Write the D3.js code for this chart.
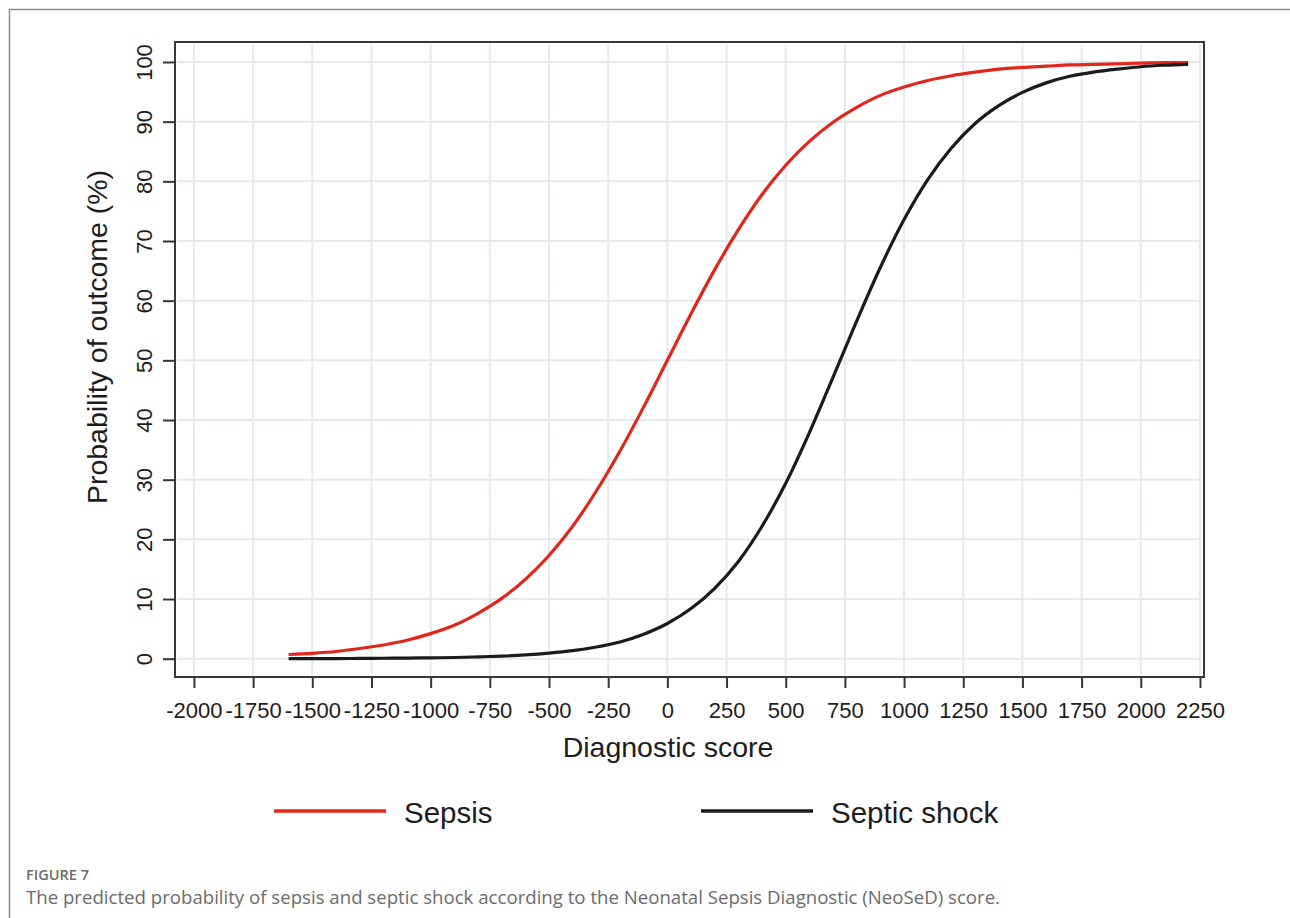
<!DOCTYPE html>
<html>
<head>
<meta charset="utf-8">
<script src="https://cdn.jsdelivr.net/npm/d3@7"></script>
<style>
  body { margin: 0; background: #ffffff; }
  text { font-family: "Liberation Sans", Arial, sans-serif; }
  .caption { font-family: "Open Sans", "Noto Sans", sans-serif; }
</style>
</head>
<body>
<div id="prediction-plot"></div>
<script>
// Diagnostic score (x) for the curve points
let scores = [-1600, -1500, -1400, -1300, -1200, -1100, -1000, -900, -800, -700,
  -600, -500, -400, -300, -200, -100, 0, 100, 200, 300, 400, 500, 600, 700, 800,
  900, 1000, 1100, 1200, 1300, 1400, 1500, 1600, 1700, 1800, 1900, 2000, 2100, 2200];

// Probability of sepsis (%)
let sepsis = [0.7, 0.9, 1.2, 1.7, 2.3, 3.1, 4.2, 5.6, 7.6, 10.1,
  13.3, 17.3, 22.2, 28.1, 34.8, 42.2, 50.0, 57.8, 65.2, 71.9, 77.8, 82.7, 86.7, 89.9, 92.4,
  94.4, 95.8, 96.9, 97.7, 98.3, 98.8, 99.1, 99.3, 99.5, 99.6, 99.7, 99.8, 99.9, 99.9];

// Probability of septic shock (%)
let septicShock = [0.0, 0.0, 0.0, 0.05, 0.07, 0.1, 0.14, 0.2, 0.3, 0.43,
  0.63, 0.93, 1.35, 1.96, 2.8, 4.1, 5.9, 8.4, 11.8, 16.3, 22.2, 29.4, 37.9, 47.2, 56.6,
  65.6, 73.6, 80.3, 85.6, 89.7, 92.7, 94.9, 96.5, 97.6, 98.3, 98.8, 99.2, 99.45, 99.6];

let xTicks = [-2000, -1750, -1500, -1250, -1000, -750, -500, -250, 0, 250, 500,
  750, 1000, 1250, 1500, 1750, 2000, 2250];
let yTicks = [0, 10, 20, 30, 40, 50, 60, 70, 80, 90, 100];

let seriesNames = ["Sepsis", "Septic shock"];
let seriesColors = ["#e3261b", "#1c1a1a"];

let width = 1290;
let height = 918;
let plot = { left: 175, right: 1204, top: 42, bottom: 677 };

// Set scale
let xScale = d3.scaleLinear().domain([-2080, 2267]).range([plot.left, plot.right]);
let yScale = d3.scaleLinear().domain([-3.07, 103.35]).range([plot.bottom, plot.top]);

// create svg
let svg = d3
  .select("#prediction-plot")
  .append("svg")
  .attr("width", width)
  .attr("height", height);

svg.append("rect").attr("width", width).attr("height", height).attr("fill", "#fff");

// outer figure frame (top and left)
svg
  .append("path")
  .attr("d", `M9.5,${height} V9.5 H${width}`)
  .attr("fill", "none")
  .attr("stroke", "#8c8c8c")
  .attr("stroke-width", 1.5);

// Grid
let grid = svg.append("g").attr("class", "grid");
grid
  .selectAll(".vgrid")
  .data(xTicks)
  .enter()
  .append("line")
  .attr("x1", d => xScale(d))
  .attr("x2", d => xScale(d))
  .attr("y1", plot.top + 3)
  .attr("y2", plot.bottom - 2)
  .attr("stroke", "#e6eaef")
  .attr("stroke-width", 2);
grid
  .selectAll(".hgrid")
  .data(yTicks)
  .enter()
  .append("line")
  .attr("x1", plot.left + 2)
  .attr("x2", plot.right - 3)
  .attr("y1", d => yScale(d))
  .attr("y2", d => yScale(d))
  .attr("stroke", "#e6eaef")
  .attr("stroke-width", 2);

// Set axis
let xAxis = d3
  .axisBottom(xScale)
  .tickValues(xTicks)
  .tickFormat(d => String(d))
  .tickSize(11)
  .tickSizeOuter(0);
let yAxis = d3
  .axisLeft(yScale)
  .tickValues(yTicks)
  .tickFormat(d => String(d))
  .tickSize(12)
  .tickSizeOuter(0);

// Create X axis
let gx = svg
  .append("g")
  .attr("transform", `translate(0, ${plot.bottom})`)
  .call(xAxis);
gx.select(".domain").remove();
gx.selectAll(".tick line").attr("stroke", "#3a3636").attr("stroke-width", 2);
gx.selectAll(".tick text")
  .attr("fill", "#1e1c1c")
  .attr("dy", null)
  .attr("y", 41)
  .style("font-size", "22px");

// Create Y axis
let gy = svg
  .append("g")
  .attr("transform", `translate(${plot.left}, 0)`)
  .call(yAxis);
gy.select(".domain").remove();
gy.selectAll(".tick line").attr("stroke", "#3a3636").attr("stroke-width", 2);
gy.selectAll(".tick text")
  .attr("fill", "#1e1c1c")
  .attr("x", null)
  .attr("dy", null)
  .attr("transform", "translate(-23, 0) rotate(-90)")
  .style("text-anchor", "middle")
  .style("font-size", "22px");

// Plot frame
svg
  .append("rect")
  .attr("x", plot.left)
  .attr("y", plot.top)
  .attr("width", plot.right - plot.left)
  .attr("height", plot.bottom - plot.top)
  .attr("fill", "none")
  .attr("stroke", "#3a3636")
  .attr("stroke-width", 2);

// Curves
let line = d3
  .line()
  .x((d, i) => xScale(scores[i]))
  .y(d => yScale(d))
  .curve(d3.curveMonotoneX);

[sepsis, septicShock].forEach((values, k) => {
  svg
    .append("path")
    .datum(values)
    .attr("d", line)
    .attr("fill", "none")
    .attr("stroke", seriesColors[k])
    .attr("stroke-width", 3.2);
});

// Axis titles
svg
  .append("text")
  .attr("x", 668)
  .attr("y", 757)
  .style("text-anchor", "middle")
  .style("font-size", "28.5px")
  .attr("fill", "#1e1c1c")
  .text("Diagnostic score");

svg
  .append("text")
  .attr("transform", "translate(107, 337) rotate(-90)")
  .style("text-anchor", "middle")
  .style("font-size", "28.5px")
  .attr("fill", "#1e1c1c")
  .text("Probability of outcome (%)");

// Add legend
let legendX = [274, 701];
seriesNames.forEach((name, i) => {
  svg
    .append("line")
    .attr("x1", legendX[i])
    .attr("x2", legendX[i] + 112)
    .attr("y1", 811)
    .attr("y2", 811)
    .attr("stroke", seriesColors[i])
    .attr("stroke-width", 3.5);
  svg
    .append("text")
    .attr("x", legendX[i] + 130)
    .attr("y", 823)
    .style("font-size", "29.5px")
    .attr("fill", "#1e1c1c")
    .text(name);
});

// Caption
svg
  .append("text")
  .attr("class", "caption")
  .attr("x", 26)
  .attr("y", 880)
  .attr("textLength", 63)
  .attr("lengthAdjust", "spacingAndGlyphs")
  .style("font-size", "15px")
  .style("font-weight", 600)
  .attr("fill", "#6b6b6b")
  .text("FIGURE 7");
svg
  .append("text")
  .attr("class", "caption")
  .attr("x", 26)
  .attr("y", 904)
  .attr("textLength", 974)
  .attr("lengthAdjust", "spacingAndGlyphs")
  .style("font-size", "17.5px")
  .attr("fill", "#6b6b6b")
  .text("The predicted probability of sepsis and septic shock according to the Neonatal Sepsis Diagnostic (NeoSeD) score.");
</script>
</body>
</html>
